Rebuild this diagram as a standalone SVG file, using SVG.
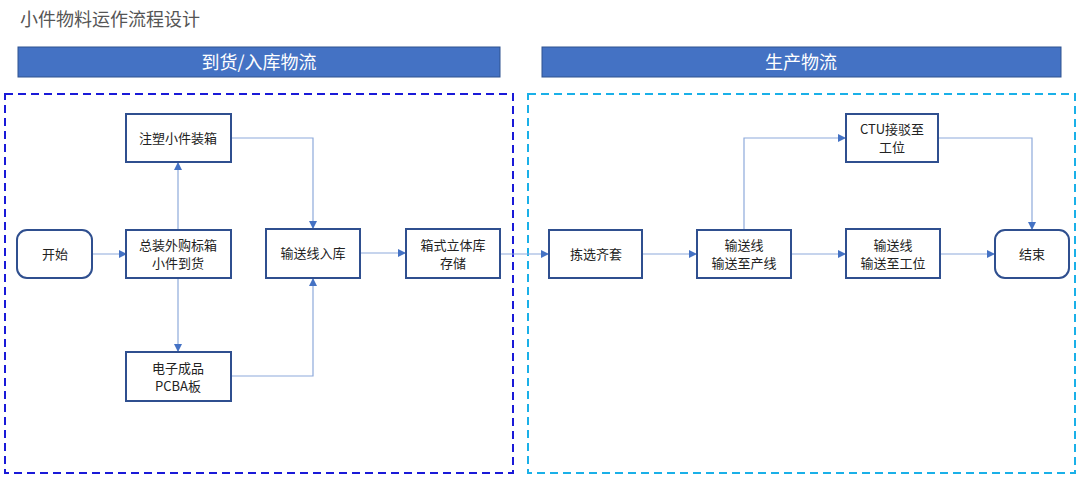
<svg xmlns="http://www.w3.org/2000/svg" width="1080" height="485" viewBox="0 0 1080 485">
<defs>
<style>
text{font-family:"Noto Sans CJK SC","Liberation Sans",sans-serif;font-size:13px;fill:#222;text-anchor:middle}
.n{fill:#fff;stroke:#2f4f8f;stroke-width:2}
.c{fill:none;stroke:#8eaadb;stroke-width:1.2;marker-end:url(#a)}
.h{fill:#4472c4;stroke:#2f528f;stroke-width:1}
.ht{fill:#fff;font-size:18px}
</style>
<marker id="a" markerWidth="8" markerHeight="8" refX="7" refY="4" orient="auto" markerUnits="userSpaceOnUse"><path d="M0,0 L8,4 L0,8 z" fill="#4472c4"/></marker>
</defs>
<rect width="1080" height="485" fill="#fff"/>
<text x="20" y="26" style="font-size:18px;fill:#555;text-anchor:start">小件物料运作流程设计</text>
<g id="hdr1"><rect class="h" x="18" y="47" width="482" height="30"/><text class="ht" x="259" y="69">到货/入库物流</text></g>
<g id="hdr2"><rect class="h" x="542" y="47" width="519" height="30"/><text class="ht" x="801" y="69">生产物流</text></g>
<rect x="5" y="94" width="508" height="379" fill="none" stroke="#1a1ad8" stroke-width="2" stroke-dasharray="8,5"/>
<rect x="528" y="94" width="547" height="379" fill="none" stroke="#1ab0e8" stroke-width="2" stroke-dasharray="8,5"/>
<g id="connectors">
<path class="c" d="M92,254 H126"/>
<path class="c" d="M178,230 V163"/>
<path class="c" d="M178,278 V351"/>
<path class="c" d="M231,138 H313 V228"/>
<path class="c" d="M231,376 H313 V279"/>
<path class="c" d="M360,253 H405"/>
<path class="c" d="M500,254 H548"/>
<path class="c" d="M642,254 H696"/>
<path class="c" d="M744,230 V138 H845"/>
<path class="c" d="M791,254 H845"/>
<path class="c" d="M938,138 H1032 V229"/>
<path class="c" d="M940,254 H994"/>
</g>
<g id="start"><rect class="n" x="17" y="230" width="75" height="48" rx="10"/><text x="55" y="259">开始</text></g>
<g id="arrive"><rect class="n" x="126" y="230" width="105" height="48"/><text x="178" y="250">总装外购标箱</text><text x="178" y="268">小件到货</text></g>
<g id="mold"><rect class="n" x="126" y="114" width="105" height="48"/><text x="178" y="143">注塑小件装箱</text></g>
<g id="pcba"><rect class="n" x="126" y="352" width="105" height="49"/><text x="178" y="373">电子成品</text><text x="178" y="391">PCBA板</text></g>
<g id="conveyin"><rect class="n" x="266" y="229" width="94" height="49"/><text x="313" y="258">输送线入库</text></g>
<g id="store"><rect class="n" x="406" y="229" width="94" height="49"/><text x="453" y="250">箱式立体库</text><text x="453" y="268">存储</text></g>
<g id="pick"><rect class="n" x="549" y="230" width="93" height="48"/><text x="596" y="259">拣选齐套</text></g>
<g id="toline"><rect class="n" x="697" y="230" width="94" height="48"/><text x="744" y="250">输送线</text><text x="744" y="268">输送至产线</text></g>
<g id="ctu"><rect class="n" x="846" y="114" width="92" height="48"/><text x="892" y="134">CTU接驳至</text><text x="892" y="152">工位</text></g>
<g id="tostation"><rect class="n" x="846" y="229" width="94" height="49"/><text x="893" y="250">输送线</text><text x="893" y="268">输送至工位</text></g>
<g id="end"><rect class="n" x="995" y="230" width="74" height="48" rx="10"/><text x="1032" y="259">结束</text></g>
</svg>
